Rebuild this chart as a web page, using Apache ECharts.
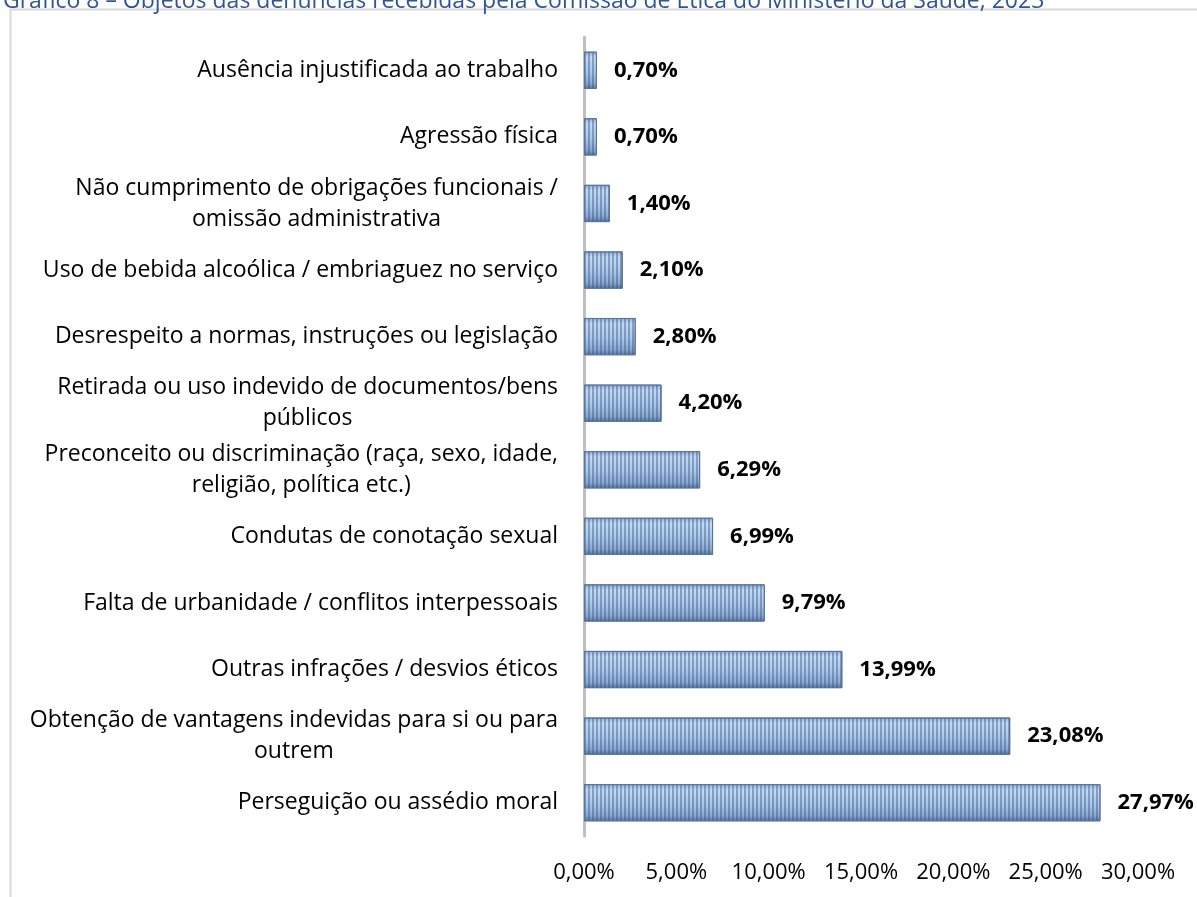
<!DOCTYPE html>
<html>
<head>
<meta charset="utf-8">
<script src="https://cdn.jsdelivr.net/npm/echarts@6/dist/echarts.min.js"></script>
<style>
  html, body { margin: 0; padding: 0; background: #fff; }
  #chart { width: 1197px; height: 897px; }
</style>
</head>
<body>
<div id="chart"></div>
<script>
// categorias (de cima para baixo)
const categorias = [
  "Ausência injustificada ao trabalho",
  "Agressão física",
  "Não cumprimento de obrigações funcionais /\nomissão administrativa",
  "Uso de bebida alcoólica / embriaguez no serviço",
  "Desrespeito a normas, instruções ou legislação",
  "Retirada ou uso indevido de documentos/bens\npúblicos",
  "Preconceito ou discriminação (raça, sexo, idade,\nreligião, política etc.)",
  "Condutas de conotação sexual",
  "Falta de urbanidade / conflitos interpessoais",
  "Outras infrações / desvios éticos",
  "Obtenção de vantagens indevidas para si ou para\noutrem",
  "Perseguição ou assédio moral"
];
const percentuais = [0.70, 0.70, 1.40, 2.10, 2.80, 4.20, 6.29, 6.99, 9.79, 13.99, 23.08, 27.97];
const titulo = "Gráfico 8 – Objetos das denúncias recebidas pela Comissão de Ética do Ministério da Saúde, 2023";

const fmt = v => v.toFixed(2).replace(".", ",") + "%";
const fonte = "'Open Sans', sans-serif";
const tamRotulo = 23;
const altLinha = 31;

// segunda linha centralizada sob a primeira
const ctx = document.createElement("canvas").getContext("2d");
ctx.font = tamRotulo + "px " + fonte;
const rich = {};
categorias.forEach((c, i) => {
  const linhas = c.split("\n");
  if (linhas.length > 1) {
    rich["l" + i] = {
      width: Math.round(ctx.measureText(linhas[0]).width),
      align: "center",
      fontSize: tamRotulo,
      fontFamily: fonte,
      color: "#000",
      lineHeight: altLinha
    };
  }
});

const chart = echarts.init(document.getElementById("chart"));
chart.setOption({
  animation: false,
  title: {
    text: titulo,
    left: -2,
    top: -15,
    textStyle: { color: "#2f5597", fontSize: 23, fontWeight: "normal", fontFamily: fonte }
  },
  graphic: [{
    type: "rect",
    shape: { x: 10.5, y: 9.5, width: 1200, height: 900 },
    style: { fill: "none", stroke: "#d9d9d9", lineWidth: 2 },
    silent: true
  }],
  grid: { left: 584, right: 59, top: 37, bottom: 61 },
  xAxis: {
    type: "value",
    min: 0,
    max: 30,
    interval: 5,
    splitLine: { show: false },
    axisLine: { show: false },
    axisTick: { show: false },
    axisLabel: {
      formatter: v => fmt(v),
      color: "#000",
      fontSize: 22,
      fontFamily: fonte,
      margin: 26
    }
  },
  yAxis: {
    type: "category",
    inverse: true,
    data: categorias,
    axisLine: { show: true, lineStyle: { color: "#bfbfbf", width: 3 } },
    axisTick: { show: false },
    axisLabel: {
      color: "#000",
      fontSize: tamRotulo,
      fontFamily: fonte,
      lineHeight: altLinha,
      margin: 26,
      rich: rich,
      formatter: v => {
        const linhas = v.split("\n");
        const i = categorias.indexOf(v);
        return linhas.length > 1 ? linhas[0] + "\n{l" + i + "|" + linhas[1] + "}" : v;
      }
    }
  },
  series: [{
    type: "bar",
    data: percentuais,
    barCategoryGap: "44%",
    itemStyle: {
      borderColor: "#5a769c",
      borderWidth: 1,
      color: {
        type: "linear", x: 0, y: 0, x2: 0, y2: 1,
        colorStops: [
          { offset: 0, color: "#8fadd3" },
          { offset: 0.15, color: "#c2daf3" },
          { offset: 0.55, color: "#a9c7e9" },
          { offset: 0.85, color: "#8aa8d0" },
          { offset: 1, color: "#56769f" }
        ]
      },
      decal: {
        symbol: "rect",
        symbolSize: 1,
        dashArrayX: [2, 2],
        dashArrayY: [4, 0],
        color: "rgba(45, 75, 125, 0.4)"
      }
    },
    label: {
      show: true,
      position: "right",
      distance: 17,
      formatter: p => fmt(p.value),
      color: "#000",
      fontSize: 22,
      fontWeight: "bold",
      fontFamily: fonte
    }
  }]
});
</script>
</body>
</html>
